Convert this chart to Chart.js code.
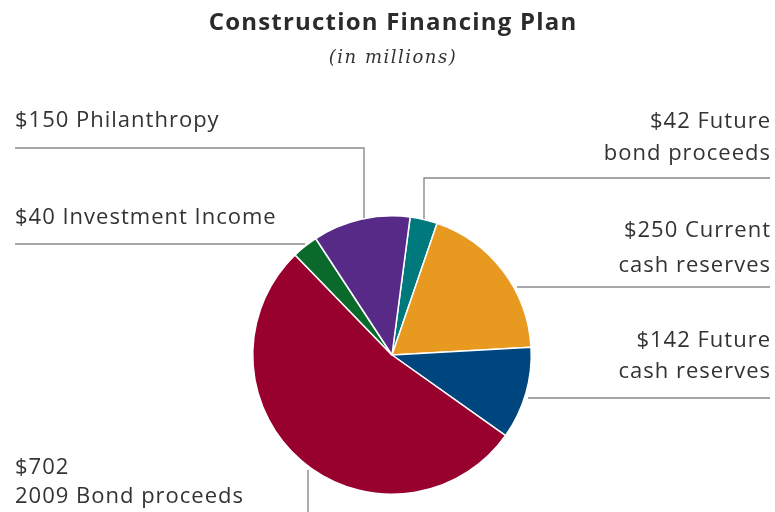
<!DOCTYPE html>
<html>
<head>
<meta charset="utf-8">
<script src="https://cdn.jsdelivr.net/npm/chart.js@4"></script>
<style>
  html, body { margin: 0; padding: 0; background: #ffffff; }
  #wrap { width: 775px; height: 512px; position: relative; }
</style>
</head>
<body>
<div id="wrap"><canvas id="c" width="775" height="512"></canvas></div>
<script>
// ---- data ----
const categories = ["Future bond proceeds", "Current cash reserves", "Future cash reserves", "2009 Bond proceeds", "Investment Income", "Philanthropy"];
const values = [42, 250, 142, 702, 40, 150];
const colors = ["#00797c", "#e8991f", "#00467e", "#98002e", "#0a6a2b", "#582a87"];
const labelLines = [
  ["$42 Future", "bond proceeds"],
  ["$250 Current", "cash reserves"],
  ["$142 Future", "cash reserves"],
  ["$702", "2009 Bond proceeds"],
  ["$40 Investment Income"],
  ["$150 Philanthropy"]
];
const titleText = "Construction Financing Plan";
const subtitleText = "(in millions)";

// ---- layout for labels / leader lines (not data) ----
const labelLayout = [
  { x: 770, align: "right", y: [128, 160], path: [[770, 178], [424, 178], [424, 219]] },
  { x: 770, align: "right", y: [237, 272], path: [[770, 287], [517, 287]] },
  { x: 770, align: "right", y: [347, 378], path: [[770, 398], [528, 398]] },
  { x: 15, align: "left", y: [474, 503], path: [[308, 470], [308, 512]] },
  { x: 15, align: "left", y: [224], path: [[15, 244], [305, 244]] },
  { x: 15, align: "left", y: [127], path: [[15, 148], [364, 148], [364, 218]] }
];

const annotations = {
  id: "annotations",
  afterDraw(chart) {
    const ctx = chart.ctx;
    ctx.save();
    // leader lines
    ctx.strokeStyle = "#8a8a8a";
    ctx.lineWidth = 1.4;
    labelLayout.forEach(l => {
      ctx.beginPath();
      l.path.forEach((p, i) => i ? ctx.lineTo(p[0], p[1]) : ctx.moveTo(p[0], p[1]));
      ctx.stroke();
    });
    // labels
    ctx.fillStyle = "#333333";
    ctx.font = "22px 'Open Sans', sans-serif";
    ctx.letterSpacing = "1px";
    ctx.textBaseline = "alphabetic";
    labelLayout.forEach((l, i) => {
      ctx.textAlign = l.align;
      const xx = l.align === "right" ? l.x + 1 : l.x;
      labelLines[i].forEach((t, j) => ctx.fillText(t, xx, l.y[j]));
    });
    // title
    ctx.textAlign = "center";
    ctx.fillStyle = "#2b2b2b";
    ctx.letterSpacing = "1.2px";
    ctx.font = "bold 24px 'Open Sans', sans-serif";
    ctx.fillText(titleText, 393, 30);
    ctx.letterSpacing = "1.5px";
    ctx.font = "italic 18px 'DejaVu Serif', serif";
    ctx.fillStyle = "#333333";
    ctx.fillText(subtitleText, 393, 63);
    ctx.restore();
  }
};

new Chart(document.getElementById("c"), {
  type: "pie",
  data: {
    labels: categories,
    datasets: [{
      data: values,
      backgroundColor: colors,
      borderColor: "#ffffff",
      borderWidth: 1.5
    }]
  },
  options: {
    responsive: false,
    animation: false,
    rotation: 7.5,
    layout: { padding: { top: 215, bottom: 17, left: 252, right: 243 } },
    plugins: {
      legend: { display: false },
      tooltip: { enabled: false },
      title: { display: false }
    }
  },
  plugins: [annotations]
});
</script>
</body>
</html>
